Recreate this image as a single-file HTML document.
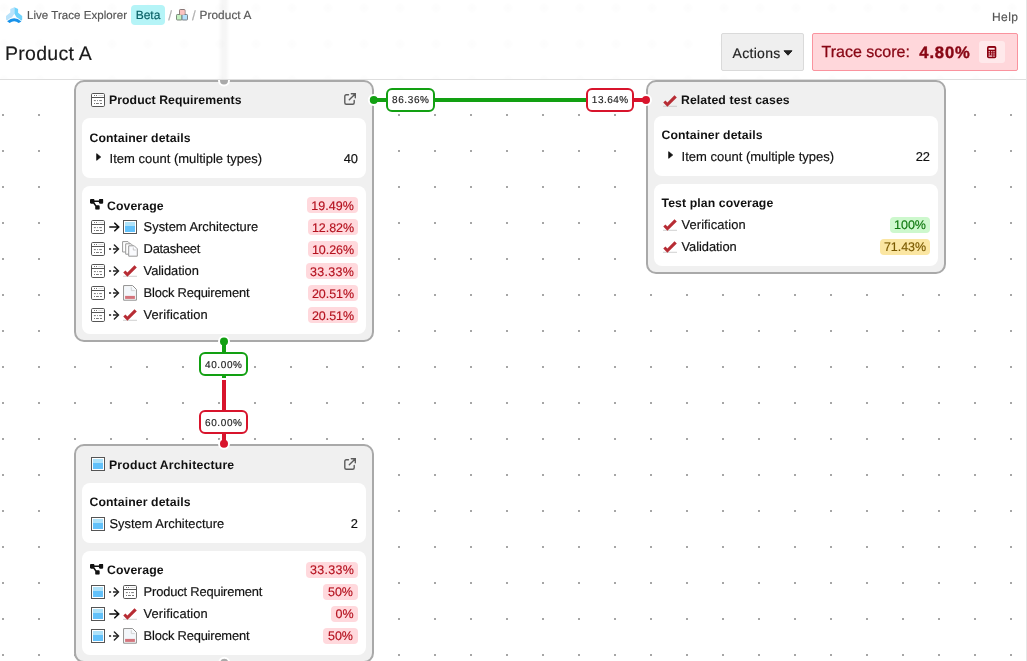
<!DOCTYPE html>
<html lang="en">
<head>
<meta charset="utf-8">
<title>Live Trace Explorer - Product A</title>
<style>
*{box-sizing:border-box;margin:0;padding:0}
html,body{width:1027px;height:661px;overflow:hidden;background:#fff}
body{font-family:"Liberation Sans",sans-serif;color:#111;position:relative;font-size:13px;-webkit-text-stroke:.16px;text-rendering:geometricPrecision}
.title,.row .h{-webkit-text-stroke:0}
svg{display:block;overflow:visible}
.abs{position:absolute}
#canvas{position:absolute;left:0;top:80px;width:1027px;height:581px;overflow:hidden}
#header{position:absolute;left:0;top:0;width:1027px;height:80px;background:#fff;border-bottom:1px solid #dedede}
.hdots{position:absolute;left:0;top:0;width:1026px;height:79px;background-image:radial-gradient(circle at 18px 18px,rgba(0,0,0,.01) 0,rgba(0,0,0,.007) 3px,rgba(0,0,0,0) 5.5px);background-size:36px 36px;background-position:-14px -10px}
.ghost{position:absolute;left:218px;top:0;width:12px;height:79px;background:linear-gradient(90deg,rgba(0,0,0,0),rgba(0,0,0,.035) 35%,rgba(0,0,0,.035) 65%,rgba(0,0,0,0))}
.crumb{position:absolute;top:9px;height:15px;line-height:15px;font-size:11.5px;color:#555;white-space:nowrap}
.beta{position:absolute;left:131px;top:5px;width:34px;height:20px;border-radius:4px;background:#b5f4f7;color:#0a6166;font-size:12px;line-height:21px;text-align:center}
h1{position:absolute;left:5px;top:42px;font-size:19.500px;font-weight:400;line-height:24px;color:#1a1a1a;white-space:nowrap;letter-spacing:.27px}
.btn{position:absolute;left:721px;top:33px;width:83px;height:38px;background:#efefef;border:1px solid #dadada;border-radius:2px;font-size:14px;color:#222;line-height:39px;padding-left:10.5px;letter-spacing:.32px}
.score{position:absolute;left:812px;top:33px;width:206px;height:38px;background:#ffd7db;border:1px solid #fa939e;border-radius:2px;color:#880614;font-size:16px;line-height:38.600px;white-space:nowrap;-webkit-text-stroke:.28px}
.score b{position:absolute;left:106.300px;top:0;font-size:16.600px;letter-spacing:.85px;-webkit-text-stroke:.4px}
.score .lbl{position:absolute;left:8.5px;top:0}
.calc{position:absolute;left:166px;top:7px;width:26px;height:22px;border-radius:3px;background:#ffe9eb}
.help{position:absolute;left:992px;top:10px;font-size:12px;line-height:14px;color:#555;letter-spacing:.4px}
.node{position:absolute;width:300px;background:#f0f0f0;border:2px solid #a9a9a9;border-radius:10px;}
.title{position:absolute;left:34px;font-weight:700;font-size:12.25px;line-height:16px;white-space:nowrap;color:#111}
.panel{position:absolute;left:6px;width:284px;background:#fff;border-radius:8px}
.row{position:absolute;left:0;width:284px;height:22px}
.row .t{position:absolute;top:0;line-height:22px;font-size:12.9px;white-space:nowrap;color:#111}
.row .h{position:absolute;top:1px;left:7.5px;line-height:22px;font-size:12.25px;font-weight:700;white-space:nowrap;color:#111;letter-spacing:.1px}
.row .n{position:absolute;top:0;right:8px;line-height:22px;font-size:12.9px;color:#111}
.badge{position:absolute;right:8px;top:3px;height:16px;border-radius:4px;font-size:12.5px;line-height:17.600px;white-space:nowrap;text-align:center;letter-spacing:-.05px}
.n1 .badge{line-height:19.400px}
.red{background:#ffd9dd;color:#b5121f}
.grn{background:#cdf8cd;color:#117a11}
.yel{background:#fbe6a2;color:#7a5a00}
.lab{position:absolute;width:49px;height:24px;border-radius:6px;background:#fff;border:2px solid;font-size:10px;line-height:23px;text-align:center;color:#222;letter-spacing:.62px;padding-left:.6px;-webkit-text-stroke:.15px}
.hd{position:absolute;width:11px;height:11px;border-radius:50%;border:1.5px solid #fff}
</style>
</head>
<body>

<svg width="0" height="0" style="position:absolute">
  <defs>
    <linearGradient id="blu" x1="0" y1="0" x2="0" y2="1">
      <stop offset="0" stop-color="#aee2f9"/><stop offset="0.38" stop-color="#aee2f9"/>
      <stop offset="0.38" stop-color="#62c1fa"/><stop offset="1" stop-color="#62c1fa"/>
    </linearGradient>
    <symbol id="i-req" viewBox="0 0 14 14">
      <rect x="0.5" y="0.5" width="13" height="13" rx="1.200" fill="#fff" stroke="#555" stroke-width="1"/>
      <path d="M0.5 4.5H13.5" stroke="#555" stroke-width="1" fill="none"/>
      <path d="M3 2.5h1M5 2.5h1" stroke="#777" stroke-width="1" fill="none"/>
      <path d="M7.300 2.500h5.200" stroke="#ccc" stroke-width="0.600" fill="none"/>
      <path d="M2.900 7.600h1.900M6.100 7.600h0.900M8.200 7.600h2.700M3 10.500h1M5 10.500h2.900M9 10.500h2" stroke="#777" stroke-width="1" fill="none"/>
    </symbol>
    <symbol id="i-arch" viewBox="0 0 14 14">
      <rect x="0.5" y="0.5" width="13" height="13" fill="#fff" stroke="#555" stroke-width="1"/>
      <rect x="2" y="2" width="10" height="10" fill="url(#blu)"/>
    </symbol>
    <symbol id="i-ds" viewBox="0 0 16 16">
      <path d="M0.600 0.600h5.400l1.600 1.600v8.800h-7z" fill="#fff" stroke="#999" stroke-width="1" stroke-linejoin="round"/>
      <path d="M3.700 2.800h5.400l1.600 1.600v8.800h-7z" fill="#fff" stroke="#999" stroke-width="1" stroke-linejoin="round"/>
      <path d="M6.700 4.800h5.600l3 3v7.400h-8.600z" fill="#fafbfe" stroke="#999" stroke-width="1" stroke-linejoin="round"/>
      <path d="M11.300 6.500v2.500h2.500" fill="none" stroke="#c4c4c4" stroke-width="0.900"/>
    </symbol>
    <symbol id="i-chk" viewBox="0 0 14 14">
      <path d="M0 12.300H14" stroke="#bdbdbd" stroke-width="0.700" fill="none"/>
      <path d="M0.250 8.600L2.450 6.400L4.400 8.500L11.500 1.300L13.800 3.450L4.400 12.700Z" fill="#b72c34"/>
    </symbol>
    <symbol id="i-blk" viewBox="0 0 14 16">
      <path d="M0.600 0.600H9.600L13.400 4.400V15.200H0.600Z" fill="#fff" stroke="#8e8e8e" stroke-width="1" stroke-linejoin="round"/>
      <path d="M1.800 1.800H9L12.200 5V14H1.800Z" fill="#f3f7fb"/>
      <path d="M8.300 2.200V5.600H11.800" fill="none" stroke="#cfcfcf" stroke-width="0.900"/>
      <rect x="2.100" y="10.900" width="9.800" height="3" fill="#d4747c"/>
    </symbol>
    <symbol id="i-cov" viewBox="0 32 576 448" preserveAspectRatio="none">
      <path fill="#111" d="M0 80C0 53.500 21.500 32 48 32h96c26.500 0 48 21.500 48 48v16h192V80c0-26.500 21.500-48 48-48h96c26.500 0 48 21.500 48 48v96c0 26.500-21.500 48-48 48h-96c-26.500 0-48-21.500-48-48v-16H192v16c0 1.700-.1 3.400-.3 5L272 288h96c26.500 0 48 21.500 48 48v96c0 26.500-21.500 48-48 48h-96c-26.500 0-48-21.500-48-48v-96c0-1.700.1-3.400.3-5L144 224H48c-26.500 0-48-21.500-48-48V80z"/>
    </symbol>
    <symbol id="i-ext" viewBox="0 0 12 12">
      <path d="M4.500 1.800H2.300Q0.800 1.800 0.800 3.300V9.800Q0.800 11.300 2.300 11.300H8.700Q10.200 11.300 10.200 9.800V7.500" fill="none" stroke="#5c5c5c" stroke-width="1.400" stroke-linecap="round"/>
      <path d="M7.300 0.800H11.300V4.800M11.100 1L5.300 6.800" fill="none" stroke="#5c5c5c" stroke-width="1.400" stroke-linecap="round" stroke-linejoin="miter"/>
    </symbol>
    <symbol id="i-ar" viewBox="0 0 12 10">
      <path d="M0.800 5H9.400M5.800 1.200L9.700 5L5.800 8.800" fill="none" stroke="#111" stroke-width="1.600" stroke-linecap="round" stroke-linejoin="miter"/>
    </symbol>
    <symbol id="i-dar" viewBox="0 0 12 10">
      <path d="M0 4.900h2.100M4 4.900h5" fill="none" stroke="#222" stroke-width="1.500"/>
      <path d="M5.400 0.900L9.500 4.900L5.400 8.900" fill="none" stroke="#222" stroke-width="1.400" stroke-linecap="round" stroke-linejoin="miter"/>
    </symbol>
    <symbol id="i-tri" viewBox="0 0 6 8">
      <path d="M0.700 0.700L4.700 4L0.700 7.300Z" fill="#111" stroke="#111" stroke-width="0.800" stroke-linejoin="round"/>
    </symbol>
  </defs>
</svg>

<div id="canvas"><svg width="1027" height="581"><defs><pattern id="dots" x="2" y="-2" width="36" height="36" patternUnits="userSpaceOnUse"><rect x="0" y="0" width="2" height="2" fill="#a6a6a6"/></pattern></defs><rect x="0" y="0" width="1027" height="581" fill="url(#dots)"/></svg></div>
<div id="graph">
<div class="node n1" style="left:74px;top:80px;height:262px"><svg class="abs" style="left:15px;top:11px" width="14" height="14"><use href="#i-req"/></svg><div class="title" style="top:10px;left:33px;letter-spacing:.06px">Product Requirements</div><svg class="abs" style="left:268px;top:10.8px" width="12" height="12"><use href="#i-ext"/></svg><div class="panel" style="top:36px;height:60px"><div class="row" style="top:8px"><span class="h" style="top:1px">Container details</span></div><div class="row" style="top:30px"><svg class="abs" style="left:14px;top:5px" width="6" height="8"><use href="#i-tri"/></svg><span class="t" style="left:27.600px;font-size:13px">Item count (multiple types)</span><span class="n">40</span></div></div><div class="panel" style="top:104px;height:148px"><div class="row" style="top:8px"><svg class="abs" style="left:8px;top:5.4px" width="13.4" height="10.8"><use href="#i-cov"/></svg><span class="h" style="left:25px;top:1px">Coverage</span><span class="badge red" style="width:51px;letter-spacing:0.05px">19.49%</span></div><div class="row" style="top:30px"><svg class="abs" style="left:9px;top:4px" width="14" height="14"><use href="#i-req"/></svg><svg class="abs" style="left:27px;top:6px" width="12" height="10"><use href="#i-ar"/></svg><svg class="abs" style="left:41px;top:4px" width="14" height="14"><use href="#i-arch"/></svg><span class="t" style="left:61.6px">System Architecture</span><span class="badge red" style="width:50px">12.82%</span></div><div class="row" style="top:52px"><svg class="abs" style="left:9px;top:4px" width="14" height="14"><use href="#i-req"/></svg><svg class="abs" style="left:27px;top:6px" width="12" height="10"><use href="#i-dar"/></svg><svg class="abs" style="left:40px;top:3px" width="16" height="16"><use href="#i-ds"/></svg><span class="t" style="left:61.6px;letter-spacing:-0.26px">Datasheet</span><span class="badge red" style="width:50px">10.26%</span></div><div class="row" style="top:74px"><svg class="abs" style="left:9px;top:4px" width="14" height="14"><use href="#i-req"/></svg><svg class="abs" style="left:27px;top:6px" width="12" height="10"><use href="#i-dar"/></svg><svg class="abs" style="left:41px;top:4px" width="14" height="14"><use href="#i-chk"/></svg><span class="t" style="left:61.6px;letter-spacing:-0.05px">Validation</span><span class="badge red" style="width:52px;letter-spacing:0.3px">33.33%</span></div><div class="row" style="top:96px"><svg class="abs" style="left:9px;top:4px" width="14" height="14"><use href="#i-req"/></svg><svg class="abs" style="left:27px;top:6px" width="12" height="10"><use href="#i-dar"/></svg><svg class="abs" style="left:41px;top:3px" width="14" height="16"><use href="#i-blk"/></svg><span class="t" style="left:61.6px;letter-spacing:-0.19px">Block Requirement</span><span class="badge red" style="width:50px">20.51%</span></div><div class="row" style="top:118px"><svg class="abs" style="left:9px;top:4px" width="14" height="14"><use href="#i-req"/></svg><svg class="abs" style="left:27px;top:6px" width="12" height="10"><use href="#i-dar"/></svg><svg class="abs" style="left:41px;top:4px" width="14" height="14"><use href="#i-chk"/></svg><span class="t" style="left:61.6px;letter-spacing:0.1px">Verification</span><span class="badge red" style="width:50px">20.51%</span></div></div></div>
<div class="node" style="left:646px;top:80px;height:194px"><svg class="abs" style="left:15px;top:12px" width="14" height="14"><use href="#i-chk"/></svg><div class="title" style="top:9.500px;left:33px;letter-spacing:.1px">Related test cases</div><div class="panel" style="top:34px;height:60px"><div class="row" style="top:8px"><span class="h" style="top:0px">Container details</span></div><div class="row" style="top:30px"><svg class="abs" style="left:14px;top:5px" width="6" height="8"><use href="#i-tri"/></svg><span class="t" style="left:27.600px;font-size:13px">Item count (multiple types)</span><span class="n">22</span></div></div><div class="panel" style="top:102px;height:82px"><div class="row" style="top:8px"><span class="h" style="top:0px">Test plan coverage</span></div><div class="row" style="top:30px"><svg class="abs" style="left:9px;top:4px" width="14" height="14"><use href="#i-chk"/></svg><span class="t" style="left:27.5px;letter-spacing:0.1px">Verification</span><span class="badge grn" style="width:40px">100%</span></div><div class="row" style="top:52px"><svg class="abs" style="left:9px;top:4px" width="14" height="14"><use href="#i-chk"/></svg><span class="t" style="left:27.5px;letter-spacing:-0.05px">Validation</span><span class="badge yel" style="width:50px">71.43%</span></div></div></div>
<div class="node" style="left:74px;top:444px;height:219px"><svg class="abs" style="left:15px;top:11px" width="14" height="14"><use href="#i-arch"/></svg><div class="title" style="top:10.500px;left:33px;letter-spacing:.2px">Product Architecture</div><svg class="abs" style="left:268px;top:12px" width="12" height="12"><use href="#i-ext"/></svg><div class="panel" style="top:37px;height:60px"><div class="row" style="top:8px"><span class="h" style="top:0">Container details</span></div><div class="row" style="top:30px"><svg class="abs" style="left:9px;top:4px" width="14" height="14"><use href="#i-arch"/></svg><span class="t" style="left:27.5px">System Architecture</span><span class="n">2</span></div></div><div class="panel" style="top:105px;height:104px"><div class="row" style="top:8px"><svg class="abs" style="left:8px;top:5.4px" width="13.4" height="10.8"><use href="#i-cov"/></svg><span class="h" style="left:25px;top:0px">Coverage</span><span class="badge red" style="width:52px;letter-spacing:0.3px">33.33%</span></div><div class="row" style="top:30px"><svg class="abs" style="left:9px;top:4px" width="14" height="14"><use href="#i-arch"/></svg><svg class="abs" style="left:27px;top:6px" width="12" height="10"><use href="#i-dar"/></svg><svg class="abs" style="left:41px;top:4px" width="14" height="14"><use href="#i-req"/></svg><span class="t" style="left:61.6px;letter-spacing:-0.17px">Product Requirement</span><span class="badge red" style="width:35px">50%</span></div><div class="row" style="top:52px"><svg class="abs" style="left:9px;top:4px" width="14" height="14"><use href="#i-arch"/></svg><svg class="abs" style="left:27px;top:6px" width="12" height="10"><use href="#i-ar"/></svg><svg class="abs" style="left:41px;top:4px" width="14" height="14"><use href="#i-chk"/></svg><span class="t" style="left:61.6px;letter-spacing:0.1px">Verification</span><span class="badge red" style="width:27px">0%</span></div><div class="row" style="top:74px"><svg class="abs" style="left:9px;top:4px" width="14" height="14"><use href="#i-arch"/></svg><svg class="abs" style="left:27px;top:6px" width="12" height="10"><use href="#i-dar"/></svg><svg class="abs" style="left:41px;top:3px" width="14" height="16"><use href="#i-blk"/></svg><span class="t" style="left:61.6px;letter-spacing:-0.19px">Block Requirement</span><span class="badge red" style="width:35px">50%</span></div></div></div>

<svg class="abs" style="left:0;top:0" width="1027" height="661"><circle cx="224" cy="80.5" r="5" fill="#a9a9a9" stroke="#fff" stroke-width="2"/><circle cx="373.8" cy="100" r="5" fill="#12a012" stroke="#fff" stroke-width="2"/><circle cx="224" cy="341.6" r="5" fill="#12a012" stroke="#fff" stroke-width="2"/><circle cx="646" cy="100" r="5" fill="#d8142c" stroke="#fff" stroke-width="2"/><circle cx="224" cy="443.8" r="5" fill="#d8142c" stroke="#fff" stroke-width="2"/><circle cx="224.3" cy="662.8" r="5" fill="#a9a9a9" stroke="#fff" stroke-width="2"/></svg>

<div class="abs" style="left:374px;top:98px;width:212px;height:4px;background:#12a012"></div>
<div class="abs" style="left:634px;top:98px;width:12px;height:4px;background:#d8142c"></div>
<div class="abs" style="left:222px;top:342px;width:4px;height:36px;background:#12a012"></div>
<div class="abs" style="left:222px;top:380px;width:4px;height:64px;background:#d8142c"></div>


<div class="lab" style="left:386px;top:88px;border-color:#12a012;line-height:21.400px">86.36%</div>
<div class="lab" style="left:586px;top:88px;width:48px;border-color:#d8142c;letter-spacing:.5px;line-height:21.400px">13.64%</div>
<div class="lab" style="left:199px;top:352px;border-color:#12a012">40.00%</div>
<div class="lab" style="left:199px;top:410px;border-color:#d8142c">60.00%</div>

</div>
<div id="header">
  <div class="hdots"></div>
  <div class="ghost"></div>
  <svg class="abs" style="left:6px;top:7px" width="16" height="16" viewBox="0 0 16 16">
  <path d="M4.300 2L8.400 0.200V6.800L6.100 10.300Q3.600 11.300 1.100 13.500L0 12.400V9L4.300 5.400Z" fill="#b9e3fb"/>
  <path d="M8.400 0.200L12.100 2V5.700L16.200 9V12.600L15.300 13.700Q12.900 11.400 10.500 10.300L8.400 6.800Z" fill="#6fd3fc"/>
  <path d="M1.100 14.300Q8.200 8.200 15.400 14.500L12.700 16.100Q8.200 12.300 3.600 16.100Z" fill="#1792ea"/>
</svg>
  <div class="crumb" style="left:27px;letter-spacing:.05px">Live Trace Explorer</div>
  <div class="beta">Beta</div>
  <div class="crumb" style="left:168.300px;color:#b0b0b0;font-size:13.500px;top:8px">/</div>
  <svg class="abs" style="left:176px;top:9px" width="12" height="12" viewBox="0 0 12 12">
  <rect x="3.500" y="0.500" width="5.500" height="5.500" rx="0.800" fill="#fbc3c1" stroke="#7a6a6a" stroke-width="0.900"/>
  <rect x="0.500" y="5.500" width="5.500" height="5.500" rx="0.800" fill="#c3f0c0" stroke="#6f7d6f" stroke-width="0.900"/>
  <rect x="6" y="5.500" width="5.500" height="5.500" rx="0.800" fill="#b3e1fb" stroke="#6f777d" stroke-width="0.900"/>
  <rect x="3.900" y="1.500" width="4.700" height="4.300" fill="#fbc3c1"/>
</svg>
  <div class="crumb" style="left:192.100px;color:#b0b0b0;font-size:13.500px;top:8px">/</div>
  <div class="crumb" style="left:199.500px;top:8.200px;font-size:11.800px;letter-spacing:.08px">Product A</div>
  <div class="help">Help</div>
  <h1>Product A</h1>
  <div class="btn">Actions<svg class="abs" style="left:61px;top:16px" width="10" height="6" viewBox="0 0 10 6"><path d="M1 0.800H9L5 5.200Z" fill="#222" stroke="#222" stroke-width="1" stroke-linejoin="round"/></svg></div>
  <div class="score"><span class="lbl">Trace score:</span><b>4.80%</b><div class="calc"><svg class="abs" style="left:8.400px;top:5.400px" width="9.300" height="12.300" viewBox="0 0 9.300 12.300">
  <rect x="0" y="0" width="9.300" height="12.300" rx="1.700" fill="#8b0010"/>
  <rect x="1.600" y="1.900" width="6.100" height="1.800" fill="#ffe9eb"/>
  <g fill="#eeb4ba"><rect x="1.600" y="5.100" width="1.400" height="1.300"/><rect x="3.950" y="5.100" width="1.400" height="1.300"/><rect x="6.300" y="5.100" width="1.400" height="1.300"/>
  <rect x="1.600" y="7.300" width="1.400" height="1.300"/><rect x="3.950" y="7.300" width="1.400" height="1.300"/><rect x="6.300" y="7.300" width="1.400" height="1.300"/></g>
  <rect x="1.600" y="9.500" width="3.750" height="1.200" fill="#ffe9eb"/><rect x="6.300" y="9.500" width="1.400" height="1.200" fill="#ffe9eb"/>
</svg></div></div>
</div>

<div class="abs" style="left:1026px;top:0;width:1px;height:661px;background:#e6e6e6"></div>
</body>
</html>
